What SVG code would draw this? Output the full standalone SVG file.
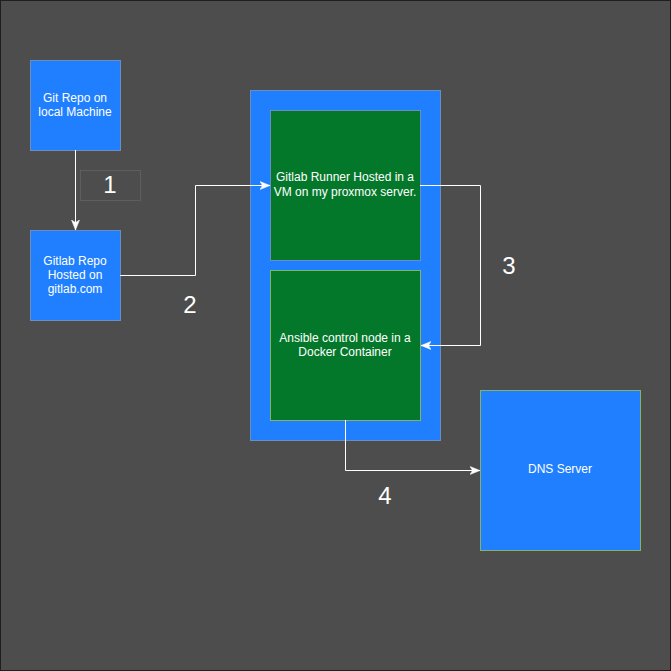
<svg xmlns="http://www.w3.org/2000/svg" width="671" height="671" viewBox="0 0 671 671">
<style>
.t{font-family:"Liberation Sans",Arial,Helvetica,sans-serif;font-size:12px;fill:#ffffff;text-anchor:middle}
.n{font-family:"Liberation Sans",Arial,Helvetica,sans-serif;font-size:24px;fill:#ffffff;text-anchor:middle}
.blue{fill:#1f7fff;stroke:#6c8ebf;stroke-width:1}
.green{fill:#04782a;stroke:#6c8ebf;stroke-width:1}
.gs{stroke:#82b366}
.c{fill:none;stroke:#ffffff;stroke-width:1}
</style>
<defs>
<marker id="arr" viewBox="0 0 10 10" refX="10" refY="5" markerWidth="10" markerHeight="10" markerUnits="userSpaceOnUse" orient="auto">
<path d="M0,1 L10,5 L0,9 L2.5,5 Z" fill="#ffffff" stroke="#ffffff" stroke-width="0.5"/>
</marker>
</defs>
<rect x="0.5" y="0.5" width="670" height="670" fill="#4d4d4d" stroke="#1e1e1e" stroke-width="1"/>
<g id="git-local">
<rect class="blue" x="30.5" y="60.5" width="90" height="90"/>
<text class="t" x="75" y="102">Git Repo on</text>
<text class="t" x="75" y="116">local Machine</text>
</g>
<g id="gitlab-repo">
<rect class="blue" x="30.5" y="230.5" width="90" height="90"/>
<text class="t" x="75" y="265">Gitlab Repo</text>
<text class="t" x="75" y="279">Hosted on</text>
<text class="t" x="75" y="293">gitlab.com</text>
</g>
<g id="proxmox">
<rect class="blue" x="250.5" y="90.5" width="190" height="350"/>
</g>
<g id="runner">
<rect class="green" x="270.5" y="110.5" width="150" height="150"/>
<text class="t" x="345" y="181">Gitlab Runner Hosted in a</text>
<text class="t" x="345" y="196">VM on my proxmox server.</text>
</g>
<g id="ansible">
<rect class="green gs" x="270.5" y="270.5" width="150" height="150"/>
<text class="t" x="345" y="342">Ansible control node in a</text>
<text class="t" x="345" y="356">Docker Container</text>
</g>
<g id="dns">
<rect class="blue gs" x="480.5" y="390.5" width="160" height="160"/>
<text class="t" x="560" y="473">DNS Server</text>
</g>
<g id="label1">
<rect x="80.5" y="170.5" width="60" height="30" fill="none" stroke="#5e5e5e" stroke-width="1"/>
<text class="n" x="110" y="193">1</text>
</g>
<g id="connectors">
<path class="c" d="M75.5,150 L75.5,230" marker-end="url(#arr)"/>
<path class="c" d="M120,275.5 L195.5,275.5 L195.5,185.5 L270,185.5" marker-end="url(#arr)"/>
<path class="c" d="M420,185.5 L480.5,185.5 L480.5,345.5 L421,345.5" marker-end="url(#arr)"/>
<path class="c" d="M345.5,420 L345.5,470.5 L480,470.5" marker-end="url(#arr)"/>
</g>
<g id="labels">
<text class="n" x="190" y="313">2</text>
<text class="n" x="509" y="274">3</text>
<text class="n" x="385" y="504">4</text>
</g>
</svg>
